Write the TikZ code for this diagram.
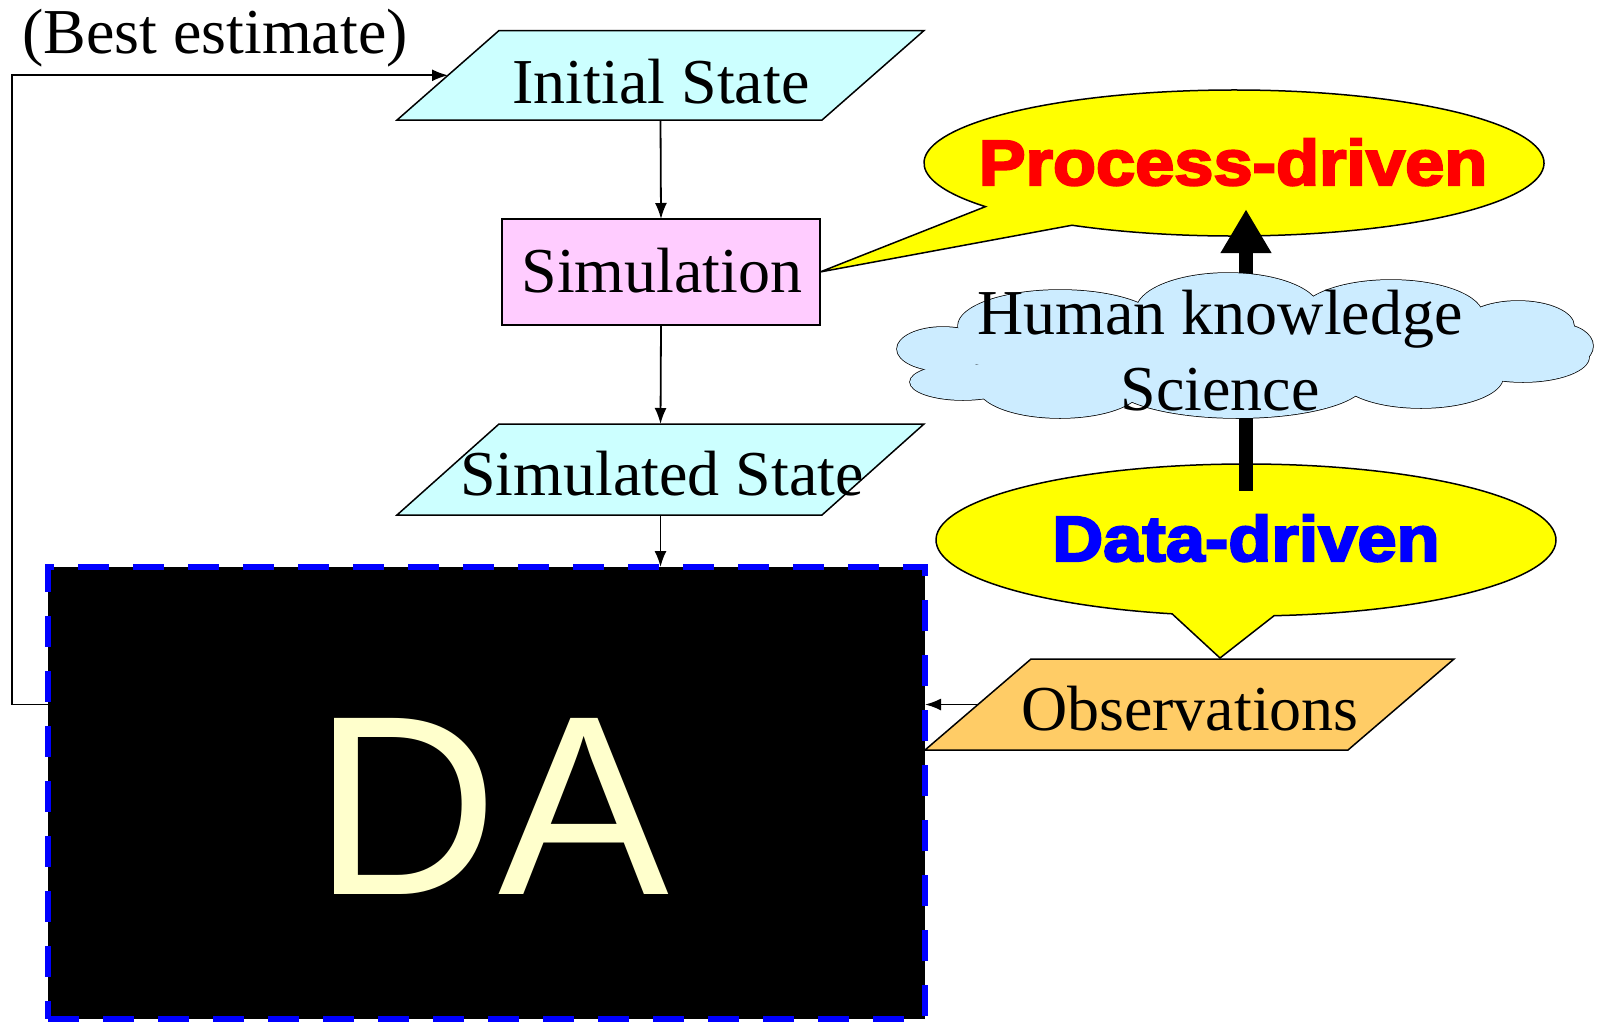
\documentclass[tikz,border=0pt]{standalone}
\usepackage{fontspec}
\setmainfont{Liberation Serif}
\newfontfamily\heavy{Liberation Sans Bold}[FakeStretch=1.1, FakeBold=3.5]
\newfontfamily\dafont{Liberation Sans}
\usetikzlibrary{shapes.geometric,arrows.meta,calc}
\definecolor{cyanfill}{HTML}{CCFFFF}
\definecolor{pinkfill}{HTML}{FFCCFF}
\definecolor{obsfill}{HTML}{FFCC66}
\definecolor{cloudfill}{HTML}{CCECFF}
\definecolor{datext}{HTML}{FFFFCC}
\definecolor{callyellow}{HTML}{FFFF00}
\newcommand\paraoutline[3]{\draw[line width=1.5pt, fill=#3] ([xshift=#2pt]#1.north west) -- ([xshift=#2pt]#1.north east) -- ([xshift=-#2pt]#1.south east) -- ([xshift=-#2pt]#1.south west) -- cycle;}
\newcommand\cloudpuffs[1]{%
  \path[#1] (943,349) ellipse [x radius=46, y radius=22];
  \path[#1] (963,382) ellipse [x radius=53, y radius=18];
  \path[#1] (1060,387) ellipse [x radius=82, y radius=31];
  \path[#1] (1238,382) ellipse [x radius=127, y radius=36];
  \path[#1] (1421,377) ellipse [x radius=82, y radius=31];
  \path[#1] (1523,357) ellipse [x radius=66, y radius=25];
  \path[#1] (1559,346) ellipse [x radius=34, y radius=22];
  \path[#1] (1518,326) ellipse [x radius=56, y radius=25];
  \path[#1] (1391,316) ellipse [x radius=92, y radius=36];
  \path[#1] (1228,311) ellipse [x radius=92, y radius=38];
  \path[#1] (1060,326) ellipse [x radius=102, y radius=36];
}
\begin{document}
\begin{tikzpicture}[x=1pt,y=-1pt,
  shapebox/.style={rectangle, inner sep=0pt, outer sep=0pt},
  txt/.style={inner sep=0pt, anchor=base, font={\fontsize{64}{76}\selectfont}},
  heavytxt/.style={inner sep=0pt, anchor=base, font={\heavy\fontsize{64}{64}\selectfont}},
  conn/.style={line width=1.8pt, -{Latex[length=16pt,width=12pt]}},
  callout/.style={draw=black, fill=callyellow, line width=1.5pt},
  puffline/.style={draw=black, fill=cloudfill, line width=1.5pt},
  pufffill/.style={fill=cloudfill}
]
\useasboundingbox (0,0) rectangle (1598,1023);

% shape boxes
\node[shapebox, minimum width=425pt, minimum height=89.5pt] (init) at (660.5,75.3) {};
\node[shapebox, minimum width=318pt, minimum height=106pt, draw=black, fill=pinkfill, line width=1.5pt] (sim) at (661,272) {};
\node[shapebox, minimum width=425pt, minimum height=91pt] (simst) at (660.5,469.5) {};
\node[shapebox, minimum width=423pt, minimum height=91pt] (obs) at (1189.5,704.5) {};
\node[shapebox, minimum width=877pt, minimum height=452pt, fill=black, draw=blue, line width=6pt, dash pattern=on 31pt off 24pt] (da) at (486.5,793) {};

\paraoutline{init}{51}{cyanfill}
\paraoutline{simst}{51}{cyanfill}
\paraoutline{obs}{53}{obsfill}

% callouts
\node[ellipse, inner sep=0pt, minimum width=620pt, minimum height=146pt] (proc) at (1234,163) {};
\node[ellipse, inner sep=0pt, minimum width=620pt, minimum height=152pt] (data) at (1246,540) {};
\coordinate (dtip) at (1220,658);
\draw[callout] (sim.east) -- ($(proc.center)+(238.5:310pt and 73pt)$) arc[start angle=238.5, end angle=576.7, x radius=310pt, y radius=73pt] -- cycle;
\draw[callout] (dtip) -- ($(data.center)+(275.2:310pt and 76pt)$) arc[start angle=275.2, end angle=616.2, x radius=310pt, y radius=76pt] -- cycle;

% texts
\node[txt] (tbest) at (215,53) {(Best estimate)};
\node[txt] (tinit) at (661,103) {Initial State};
\node[txt] (tsim) at (662,292) {Simulation};
\node[txt] (tsimst) at (662,495) {Simulated State};
\node[txt] (tobs) at (1190,730) {Observations};
\node[heavytxt, text=red] (tproc) at (1233,185) {Process-driven};
\node[heavytxt, text=blue] (tdata) at (1246,561) {Data-driven};
\node[inner sep=0pt, anchor=base, font={\dafont\fontsize{256}{256}\selectfont}, text=datext] (tda) at (491,894) {DA};

% thick arrow
\draw[line width=14pt, -{Triangle[length=44pt,width=48pt]}] ([yshift=-27pt]data.north) -- ([yshift=27pt]data.north |- proc.south);

% cloud
\node[shapebox, minimum width=696pt, minimum height=145pt] (cld) at (1245,345.5) {};
\cloudpuffs{puffline}
\cloudpuffs{pufffill}
\path[pufffill] (cld.center) ellipse [x radius=300, y radius=42];
\node[txt] (thk) at (1220,334) {Human knowledge};
\node[txt] (tsci) at (1220,410) {Science};

% connectors
\draw[conn] (init.south) -- (sim.north);
\draw[conn] (sim.south) -- (simst.north);
\draw[conn] (simst.south) -- (simst.south |- da.north);
\draw[conn] (obs.west) -- (obs.west -| da.east);
\draw[conn] (da.west |- obs.west) -- ++(-36,0) |- (init.west);
\end{tikzpicture}
\end{document}
